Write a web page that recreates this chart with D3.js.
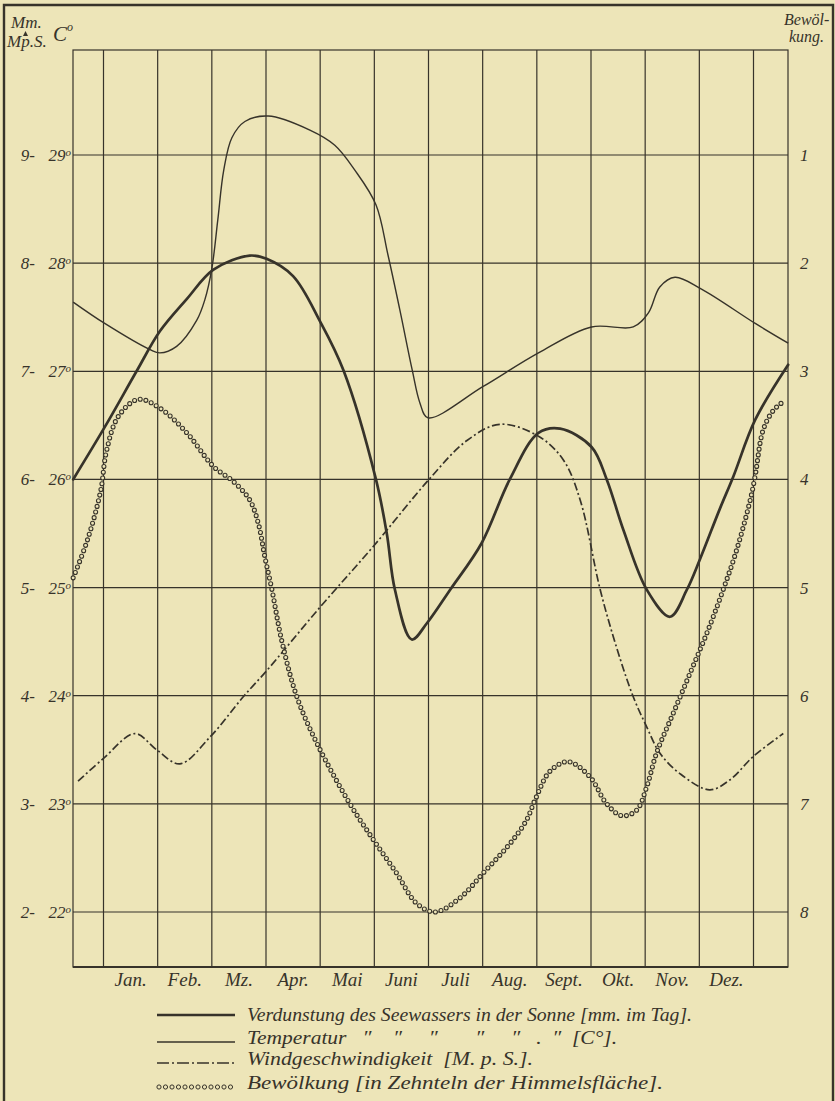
<!DOCTYPE html>
<html>
<head>
<meta charset="utf-8">
<script src="https://cdn.jsdelivr.net/npm/d3@7"></script>
<style>
  body { margin: 0; background: #ece4b6; }
  svg text { font-family: "Liberation Serif", "DejaVu Serif", serif; font-style: italic; fill: #37332a; white-space: pre; }
</style>
</head>
<body>
<div id="chart"></div>
<script>
// ---- data ----
var monthNames = ["Jan.", "Feb.", "Mz.", "Apr.", "Mai", "Juni", "Juli", "Aug.", "Sept.", "Okt.", "Nov.", "Dez."];
var mmTicks = [2, 3, 4, 5, 6, 7, 8, 9];
var tempTicks = [22, 23, 24, 25, 26, 27, 28, 29];
var cloudTicks = [1, 2, 3, 4, 5, 6, 7, 8];

// Verdunstung des Seewassers (mm im Tag); position in months (0 = start of Jan.)
var verdMonth = [-0.56, 0.03, 0.61, 1.04, 1.54, 2.03, 2.70, 3.01, 3.50, 4.00, 4.43, 5.03, 5.23, 5.38, 5.69, 5.97, 6.40, 6.98, 7.50, 8.03, 8.43, 9.01, 9.29, 9.60, 10.03, 10.46, 10.77, 11.01, 11.38, 11.63, 12.03, 12.64];
var verdMm = [6.00, 6.49, 7.00, 7.37, 7.67, 7.94, 8.07, 8.04, 7.88, 7.46, 7.01, 6.00, 5.50, 4.98, 4.52, 4.67, 4.98, 5.41, 6.00, 6.43, 6.47, 6.30, 6.00, 5.53, 4.98, 4.73, 4.98, 5.26, 5.73, 6.03, 6.55, 7.06];

// Temperatur (C°)
var tempMonth = [-0.56, 0.03, 0.86, 1.04, 1.35, 1.72, 1.87, 2.00, 2.11, 2.22, 2.37, 2.61, 3.04, 3.81, 4.27, 4.64, 5.03, 5.25, 5.47, 5.70, 5.84, 5.99, 7.01, 8.03, 9.01, 9.78, 10.06, 10.27, 10.55, 11.04, 12.04, 12.64];
var tempC = [27.64, 27.44, 27.20, 27.17, 27.23, 27.47, 27.66, 27.95, 28.40, 28.86, 29.16, 29.31, 29.36, 29.23, 29.09, 28.86, 28.54, 28.08, 27.57, 27.01, 26.71, 26.57, 26.86, 27.17, 27.41, 27.41, 27.54, 27.78, 27.87, 27.76, 27.44, 27.26];

// Windgeschwindigkeit (M. p. S.)
var windMonth = [-0.47, 0.00, 0.58, 0.98, 1.41, 1.97, 2.58, 3.01, 4.00, 4.98, 6.01, 6.71, 7.32, 8.03, 8.49, 8.80, 9.17, 9.47, 9.78, 10.03, 10.27, 10.64, 11.19, 11.56, 12.00, 12.55];
var windMps = [3.21, 3.42, 3.65, 3.50, 3.37, 3.62, 3.99, 4.23, 4.82, 5.38, 6.00, 6.36, 6.51, 6.40, 6.18, 5.81, 4.98, 4.45, 3.99, 3.71, 3.47, 3.28, 3.13, 3.22, 3.44, 3.65];

// Bewölkung (Zehntel der Himmelsfläche)
var cloudMonth = [-0.56, -0.29, -0.05, 0.05, 0.27, 0.64, 1.04, 1.54, 2.03, 2.40, 2.70, 2.86, 2.98, 3.11, 3.29, 3.57, 3.94, 4.55, 4.98, 5.41, 5.78, 6.12, 6.58, 7.01, 7.50, 7.81, 7.97, 8.24, 8.58, 8.98, 9.29, 9.57, 9.84, 10.03, 10.21, 10.52, 10.83, 11.14, 11.44, 11.69, 11.94, 12.03, 12.18, 12.37, 12.58];
var cloudTenths = [4.91, 4.55, 4.10, 3.75, 3.42, 3.26, 3.34, 3.57, 3.88, 4.02, 4.19, 4.41, 4.72, 5.02, 5.49, 6.01, 6.44, 7.00, 7.33, 7.64, 7.92, 8.00, 7.87, 7.64, 7.37, 7.15, 6.96, 6.70, 6.61, 6.75, 7.00, 7.11, 7.06, 6.84, 6.53, 6.16, 5.79, 5.42, 5.02, 4.65, 4.19, 3.97, 3.54, 3.36, 3.27];

var legendLabels = [
  "Verdunstung des Seewassers in der Sonne [mm. im Tag].",
  "Temperatur   \u2033    \u2033     \u2033       \u2033     \u2033   .  \u2033  [C\u00B0].",
  "Windgeschwindigkeit  [M. p. S.].",
  "Bew\u00F6lkung [in Zehnteln der Himmelsfl\u00E4che]."
];

// ---- drawing ----
var width = 835, height = 1101;
var plot = { left: 73, right: 788, top: 50, bottom: 967 };
var ink = "#37332a";
var paper = "#ede5b8";

var svg = d3.select("#chart").append("svg")
  .attr("width", width)
  .attr("height", height);

svg.append("rect").attr("width", width).attr("height", height).attr("fill", paper);

// outer frame (bottom runs off the page)
svg.append("path")
  .attr("d", "M4,1101 V5 H833 V1101")
  .attr("fill", "none").attr("stroke", ink).attr("stroke-width", 2.4);

var x = d3.scaleLinear().domain([0, 12]).range([103.5, 753.5]);
var yMm = d3.scaleLinear().domain([2, 9]).range([912, 155]);
var yC = d3.scaleLinear().domain([22, 29]).range([912, 155]);
var yCloud = d3.scaleLinear().domain([8, 1]).range([912, 155]);

var grid = svg.append("g").attr("stroke", ink).attr("stroke-width", 1.2);
grid.selectAll(".vline")
  .data(d3.range(0, 13))
  .enter().append("line")
  .attr("x1", d => x(d)).attr("x2", d => x(d))
  .attr("y1", plot.top).attr("y2", plot.bottom);
grid.selectAll(".hline")
  .data(mmTicks)
  .enter().append("line")
  .attr("x1", plot.left).attr("x2", plot.right)
  .attr("y1", d => yMm(d)).attr("y2", d => yMm(d));
grid.append("rect")
  .attr("x", plot.left).attr("y", plot.top)
  .attr("width", plot.right - plot.left).attr("height", plot.bottom - plot.top)
  .attr("fill", "none");
grid.append("line")
  .attr("x1", plot.left).attr("x2", plot.right)
  .attr("y1", plot.bottom).attr("y2", plot.bottom)
  .attr("stroke-width", 2.2);

// axes
var mmAxis = svg.append("g")
  .attr("transform", "translate(35,0)")
  .call(d3.axisLeft(yMm).tickValues(mmTicks).tickSize(0).tickPadding(0).tickFormat(d => d + "-"));
var cAxis = svg.append("g")
  .attr("transform", "translate(71,0)")
  .call(d3.axisLeft(yC).tickValues(tempTicks).tickSize(0).tickPadding(0).tickFormat(d => d));
cAxis.selectAll(".tick text").append("tspan")
  .attr("dy", "-0.45em").attr("font-size", 11).text("o");
var cloudAxis = svg.append("g")
  .attr("transform", "translate(" + plot.right + ",0)")
  .call(d3.axisRight(yCloud).tickValues(cloudTicks).tickSize(0).tickPadding(12).tickFormat(d => d));

[mmAxis, cAxis, cloudAxis].forEach(function(a) {
  a.select(".domain").remove();
  a.selectAll(".tick text")
    .attr("font-size", 17)
    .attr("fill", ink)
    .style("font-family", '"Liberation Serif", serif')
    .style("font-style", "italic");
});

// month labels
svg.selectAll(".month")
  .data(monthNames)
  .enter().append("text")
  .attr("x", (d, i) => x(i + 0.5))
  .attr("y", 986)
  .attr("text-anchor", "middle")
  .attr("font-size", 19)
  .text(d => d);

// unit titles
svg.append("text").attr("x", 11).attr("y", 28).attr("font-size", 17).text("Mm.");
svg.append("path").attr("d", "M23,36 L25.5,31 L28,36 Z").attr("fill", ink);
svg.append("text").attr("x", 7).attr("y", 47).attr("font-size", 17).text("Mp.S.");
svg.append("text").attr("x", 53).attr("y", 41).attr("font-size", 21).text("C");
svg.append("text").attr("x", 67).attr("y", 31).attr("font-size", 12).text("o");
svg.append("text").attr("x", 784).attr("y", 25).attr("font-size", 16).text("Bewöl-");
svg.append("text").attr("x", 789).attr("y", 42).attr("font-size", 16).text("kung.");

// series
var curve = d3.curveCatmullRom.alpha(0.5);
function pairs(xs, ys) { return xs.map((m, i) => [m, ys[i]]); }

var lineMm = d3.line().x(d => x(d[0])).y(d => yMm(d[1])).curve(curve);
var lineC = d3.line().x(d => x(d[0])).y(d => yC(d[1])).curve(curve);
var lineCloud = d3.line().x(d => x(d[0])).y(d => yCloud(d[1])).curve(curve);

svg.append("path")
  .attr("d", lineC(pairs(tempMonth, tempC)))
  .attr("fill", "none").attr("stroke", ink).attr("stroke-width", 1.4);

svg.append("path")
  .attr("d", lineMm(pairs(windMonth, windMps)))
  .attr("fill", "none").attr("stroke", ink).attr("stroke-width", 1.7)
  .attr("stroke-dasharray", "8,2.8,2,2.8");

svg.append("path")
  .attr("d", lineMm(pairs(verdMonth, verdMm)))
  .attr("fill", "none").attr("stroke", ink).attr("stroke-width", 2.7)
  .attr("stroke-linecap", "round");

var cloudPath = svg.append("path")
  .attr("d", lineCloud(pairs(cloudMonth, cloudTenths)))
  .attr("fill", "none").attr("stroke", "none");
var cloudNode = cloudPath.node();
var cloudLen = cloudNode.getTotalLength();
svg.selectAll(".cloud")
  .data(d3.range(0, cloudLen, 5.8).map(l => cloudNode.getPointAtLength(l)))
  .enter().append("circle")
  .attr("cx", d => d.x).attr("cy", d => d.y)
  .attr("r", 2)
  .attr("fill", paper).attr("stroke", ink).attr("stroke-width", 1.1);

// legend
var legendRows = [1017, 1040, 1061, 1085];
var legendWidths = [445, 370, 286, 416];
var sample = { x1: 157, x2: 235 };
var lg = svg.append("g");
lg.append("line").attr("x1", sample.x1).attr("x2", sample.x2)
  .attr("y1", legendRows[0] - 2).attr("y2", legendRows[0] - 2)
  .attr("stroke", ink).attr("stroke-width", 2.6);
lg.append("line").attr("x1", sample.x1).attr("x2", sample.x2)
  .attr("y1", legendRows[1] + 2).attr("y2", legendRows[1] + 2)
  .attr("stroke", ink).attr("stroke-width", 1.4);
lg.append("line").attr("x1", sample.x1).attr("x2", sample.x2)
  .attr("y1", legendRows[2] + 2).attr("y2", legendRows[2] + 2)
  .attr("stroke", ink).attr("stroke-width", 1.6).attr("stroke-dasharray", "12,3,2,3");
lg.selectAll(".lgdot")
  .data(d3.range(sample.x1 + 2, sample.x2, 6.5))
  .enter().append("circle")
  .attr("cx", d => d).attr("cy", legendRows[3] + 2).attr("r", 2.1)
  .attr("fill", "none").attr("stroke", ink).attr("stroke-width", 1);
lg.selectAll(".lgtext")
  .data(legendLabels)
  .enter().append("text")
  .attr("x", 247)
  .attr("y", (d, i) => legendRows[i] + 4)
  .attr("font-size", 18)
  .attr("textLength", (d, i) => legendWidths[i])
  .attr("lengthAdjust", "spacingAndGlyphs")
  .text(d => d);
</script>
</body>
</html>
